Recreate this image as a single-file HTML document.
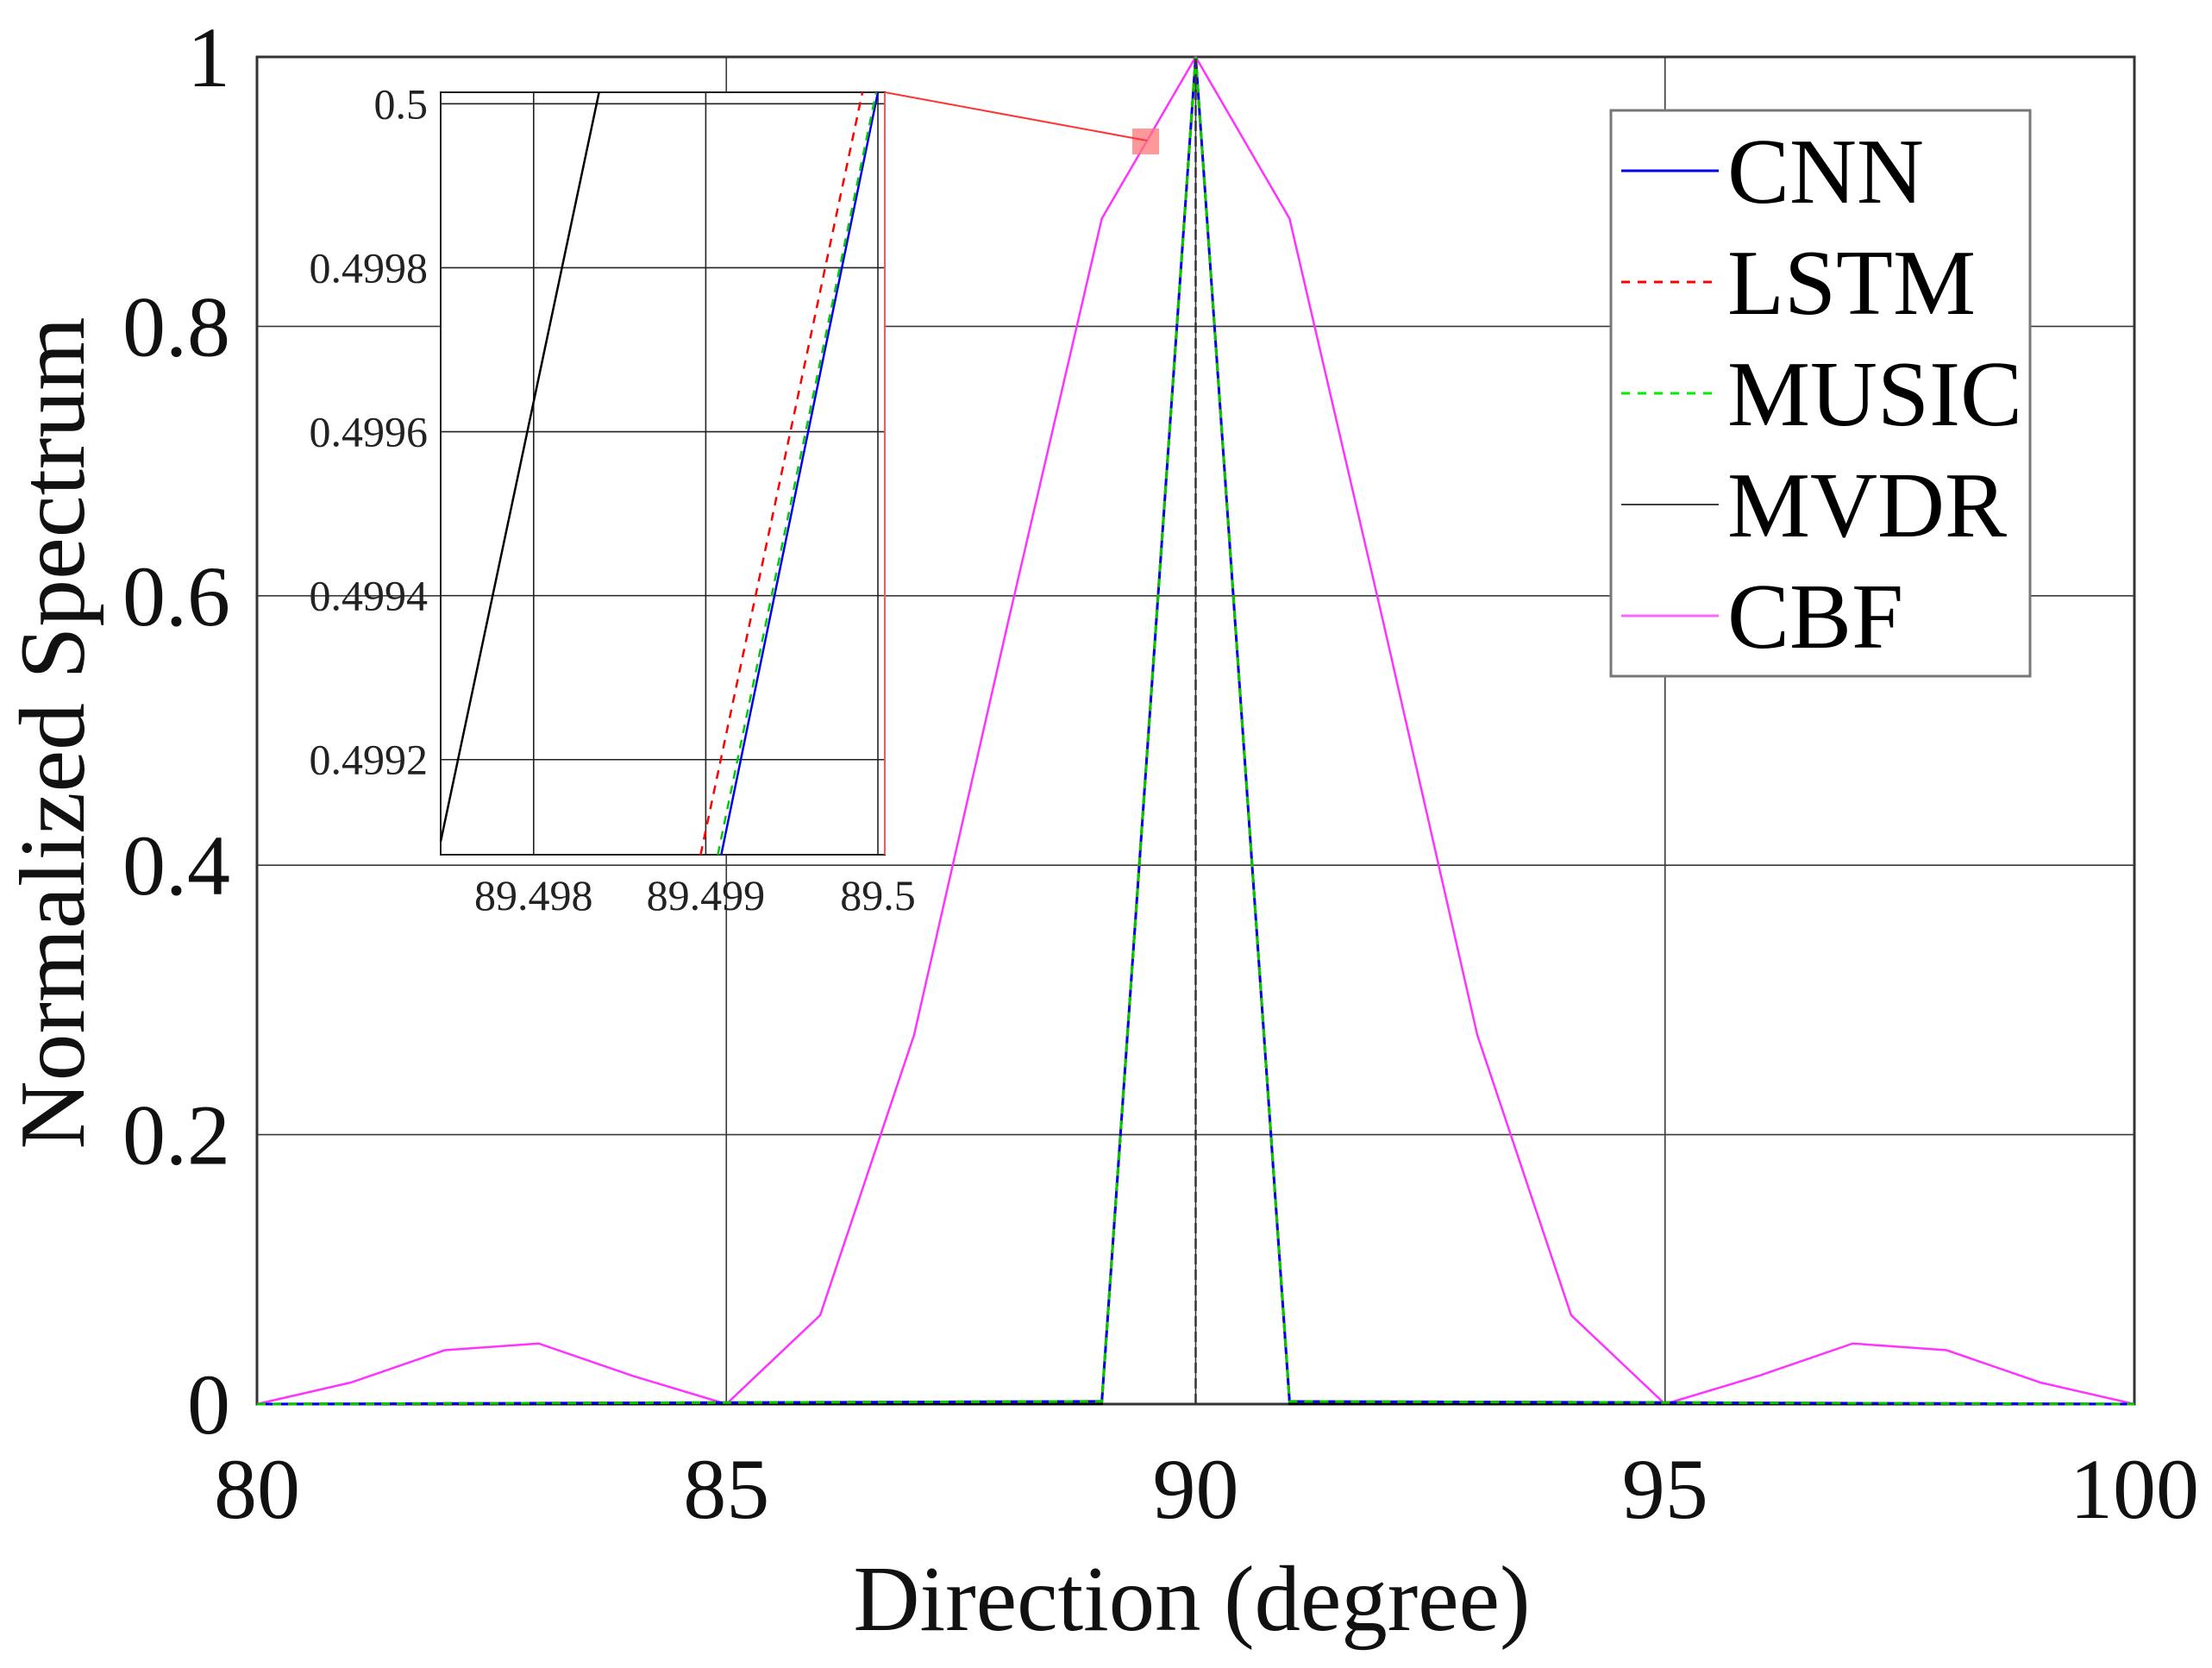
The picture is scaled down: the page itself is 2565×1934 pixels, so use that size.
<!DOCTYPE html>
<html><head><meta charset="utf-8"><style>
html,body{margin:0;padding:0;background:#fff;}
svg{display:block;font-family:"Liberation Serif",serif;}
</style></head><body>
<svg id="chart" width="2565" height="1934" viewBox="0 0 2565 1934" xmlns="http://www.w3.org/2000/svg"></svg>
<script>
const xTicks=[80,85,90,95,100];
const yTicks=[0,0.2,0.4,0.6,0.8,1];
const yTickLabels=["0","0.2","0.4","0.6","0.8","1"];
const cbfX=[80,81,82,83,84,85,86,87,88,89,90,91,92,93,94,95,96,97,98,99,100];
const cbfY=[0,0.016,0.040,0.045,0.021,0,0.066,0.274,0.58,0.880,1,0.880,0.58,0.274,0.066,0,0.021,0.045,0.040,0.016,0];
const peakX=[80,89,90,91,100];
const cnnY=[0,0.002,1,0.002,0];
const lstmY=[0,0.002,1,0.002,0];
const musicY=[0,0.002,1,0.002,0];
const mvdrY=[0,0.0,1,0.0,0];
const insetXTicks=[89.498,89.499,89.5];
const insetXLabels=["89.498","89.499","89.5"];
const insetYTicks=[0.4992,0.4994,0.4996,0.4998,0.5];
const insetYLabels=["0.4992","0.4994","0.4996","0.4998","0.5"];
const insetMvdrX=[89.49746,89.49838];const insetMvdrY=[0.49910,0.500014];
const insetCnnX=[89.49909,89.50000];const insetCnnY=[0.499084,0.500014];
const insetLstmX=[89.49897,89.49991];const insetLstmY=[0.499084,0.500014];
const insetMusicX=[89.49907,89.49999];const insetMusicY=[0.499084,0.500014];
const legendNames=["CNN","LSTM","MUSIC","MVDR","CBF"];

const NS="http://www.w3.org/2000/svg";
const svg=document.getElementById('chart');
function mk(tag,attrs,parent){const e=document.createElementNS(NS,tag);for(const k in attrs)e.setAttribute(k,attrs[k]);(parent||svg).appendChild(e);return e;}
const L=298,R=2475,T=66,B=1628;
const xs=v=>L+(v-80)/20*(R-L);
const ys=v=>B-v*(B-T);
const iL=511,iR=1026,iT=107,iB=991;
const ixs=v=>iL+(v-89.49746)/(89.50004-89.49746)*(iR-iL);
const iys=v=>iB-(v-0.499084)/(0.500014-0.499084)*(iB-iT);

for(const t of xTicks){if(t>80&&t<100){const g=mk('line',{x1:xs(t),x2:xs(t),y1:T,y2:B,stroke:'#3a3a3a','stroke-width':1.6});
}}
for(const t of yTicks){if(t>0&&t<1){const g=mk('line',{x1:L,x2:R,y1:ys(t),y2:ys(t),stroke:'#3a3a3a','stroke-width':1.6});
}}
const fr=mk('rect',{x:L,y:T,width:R-L,height:B-T,fill:'none',stroke:'#333','stroke-width':3});

yTicks.forEach((t,i)=>{const e=mk('text',{x:267,y:ys(t)+34,'text-anchor':'end','font-size':100,fill:'#111'});e.textContent=yTickLabels[i];
});
xTicks.forEach(t=>{const e=mk('text',{x:xs(t),y:1760,'text-anchor':'middle','font-size':100,fill:'#111'});e.textContent=String(t);
});
const xl=mk('text',{x:1382,y:1890,'text-anchor':'middle','font-size':108,fill:'#111',textLength:785,lengthAdjust:'spacingAndGlyphs'});xl.textContent='Direction (degree)';

const yl=mk('text',{x:0,y:0,'text-anchor':'middle','font-size':108,fill:'#111',transform:'translate(97,850) rotate(-90)',textLength:965,lengthAdjust:'spacingAndGlyphs'});yl.textContent='Normalized Spectrum';


function poly(X,Y,sx,sy,attrs,name){const p=mk('polyline',Object.assign({points:X.map((x,i)=>sx(x)+','+sy(Y[i])).join(' '),fill:'none'},attrs));
return p;}
poly(cbfX,cbfY,xs,ys,{stroke:'#ff33ff','stroke-width':2.5},'cbf-line');
poly(peakX,mvdrY,xs,ys,{stroke:'#000','stroke-width':2.5},'mvdr-line');
poly(peakX,cnnY,xs,ys,{stroke:'#0000ee','stroke-width':3},'cnn-line');
poly(peakX,lstmY,xs,ys,{stroke:'#ff0000','stroke-width':3,'stroke-dasharray':'10,8'},'lstm-line');
poly(peakX,musicY,xs,ys,{stroke:'#00cc00','stroke-width':3,'stroke-dasharray':'10,8'},'music-line');
const cl=mk('line',{x1:xs(90),x2:xs(90),y1:ys(0),y2:ys(1),stroke:'#333','stroke-width':2.5,'stroke-dasharray':'12,6'});


const zr=mk('rect',{x:1313,y:149,width:31,height:30,fill:'#ff7777','fill-opacity':0.75});

const zl=mk('line',{x1:iR,y1:iT,x2:1330,y2:163,stroke:'#ff3333','stroke-width':2});


const ib=mk('rect',{x:iL,y:iT,width:iR-iL,height:iB-iT,fill:'#fff',stroke:'#222','stroke-width':2});

insetXTicks.forEach((t,i)=>{const g=mk('line',{x1:ixs(t),x2:ixs(t),y1:iT,y2:iB,stroke:'#222','stroke-width':1.6});

const e=mk('text',{x:ixs(t),y:1055,'text-anchor':'middle','font-size':50,fill:'#222'});e.textContent=insetXLabels[i];
});
insetYTicks.forEach((t,i)=>{const g=mk('line',{x1:iL,x2:iR,y1:iys(t),y2:iys(t),stroke:'#222','stroke-width':1.6});

const e=mk('text',{x:496,y:iys(t)+17,'text-anchor':'end','font-size':50,fill:'#222'});e.textContent=insetYLabels[i];
});
poly(insetMvdrX,insetMvdrY,ixs,iys,{stroke:'#000','stroke-width':2.5},'inset-mvdr-line');
poly(insetLstmX,insetLstmY,ixs,iys,{stroke:'#ff0000','stroke-width':2.5,'stroke-dasharray':'10,8'},'inset-lstm-line');
poly(insetCnnX,insetCnnY,ixs,iys,{stroke:'#0000ee','stroke-width':2.5},'inset-cnn-line');
poly(insetMusicX,insetMusicY,ixs,iys,{stroke:'#00cc00','stroke-width':2.5,'stroke-dasharray':'10,8'},'inset-music-line');
const rv=mk('line',{x1:iR,x2:iR,y1:iT,y2:iB,stroke:'#ff5555','stroke-width':2});


const lg=mk('g',{});
mk('rect',{x:1868,y:128,width:486,height:656,fill:'#fff',stroke:'#777','stroke-width':3},lg);
const legStyles=[{stroke:'#0000ee','stroke-width':3},{stroke:'#ff0000','stroke-width':3,'stroke-dasharray':'10,9'},{stroke:'#00ee00','stroke-width':3,'stroke-dasharray':'10,9'},{stroke:'#000','stroke-width':1.5},{stroke:'#ff66ff','stroke-width':3}];
legendNames.forEach((n,i)=>{const y=198+i*129;const g=mk('g',{},lg);

mk('line',Object.assign({x1:1880,x2:1993,y1:y,y2:y},legStyles[i]),g);
const t=mk('text',{x:2003,y:y+37,'font-size':108,fill:'#000'},g);t.textContent=n;});
</script>
</body></html>
